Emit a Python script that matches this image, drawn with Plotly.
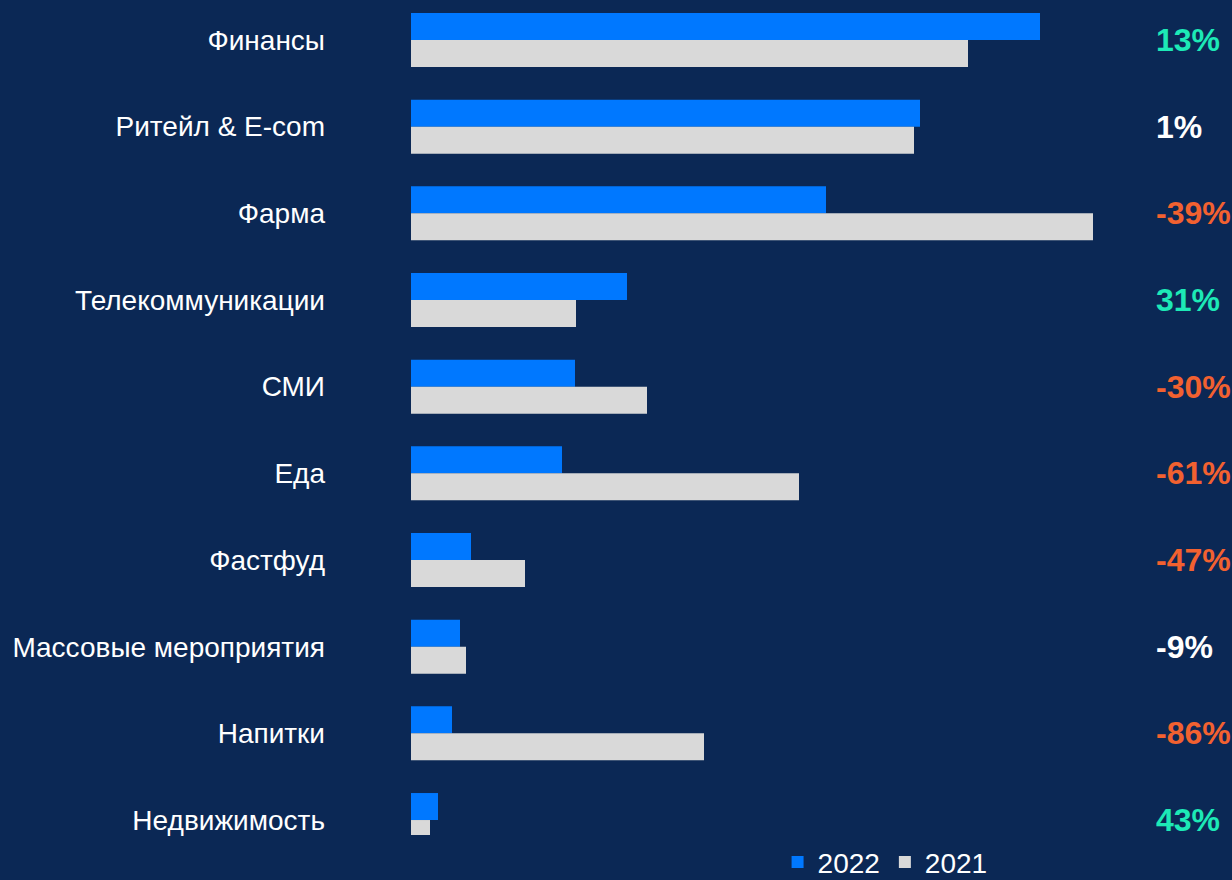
import plotly.graph_objects as go

categories = ["Финансы", "Ритейл & E-com", "Фарма", "Телекоммуникации", "СМИ",
              "Еда", "Фастфуд", "Массовые мероприятия", "Напитки", "Недвижимость"]
values_2022 = [629, 509, 415, 216, 164, 151, 60, 49, 41, 27]
values_2021 = [557, 503, 682, 165, 236, 388, 114, 55, 293, 19]
changes = ["13%", "1%", "-39%", "31%", "-30%", "-61%", "-47%", "-9%", "-86%", "43%"]

BG = "#0b2855"
BLUE = "#0078ff"
GREY = "#d9d9d9"
GREEN = "#1de9b6"
RED = "#f26130"
WHITE = "#ffffff"


def change_color(s):
    v = int(s.replace("%", ""))
    if abs(v) < 10:
        return WHITE
    return GREEN if v > 0 else RED


fig = go.Figure()
fig.add_trace(go.Bar(name="2022", y=categories, x=values_2022, orientation="h",
                     marker=dict(color=BLUE, line=dict(width=0))))
fig.add_trace(go.Bar(name="2021", y=categories, x=values_2021, orientation="h",
                     marker=dict(color=GREY, line=dict(width=0))))

for cat, ch in zip(categories, changes):
    fig.add_annotation(x=743, y=cat, xref="x", yref="y", text="<b>%s</b>" % ch,
                       showarrow=False, xanchor="left", yanchor="middle",
                       font=dict(family="Liberation Sans, Arial, sans-serif", size=32,
                                 color=change_color(ch)))

fig.update_layout(
    width=1232, height=880,
    paper_bgcolor=BG, plot_bgcolor=BG,
    margin=dict(l=411, r=0, t=0, b=45, pad=0),
    barmode="group", bargap=0.377, bargroupgap=0,
    font=dict(family="Liberation Sans, Arial, sans-serif", size=28, color=WHITE),
    xaxis=dict(range=[0, 821], visible=False, showgrid=False, zeroline=False),
    yaxis=dict(range=[9.1727, -0.4615], showgrid=False, zeroline=False, showline=False,
               ticks="", ticklabelstandoff=85, tickfont=dict(size=28, color=WHITE)),
    legend=dict(orientation="h", x=0.4465, xanchor="left",
                yref="container", y=0.02, yanchor="middle",
                font=dict(size=28, color=WHITE), bgcolor="rgba(0,0,0,0)",
                traceorder="normal"),
    showlegend=True,
)

fig.write_html("out.html")
